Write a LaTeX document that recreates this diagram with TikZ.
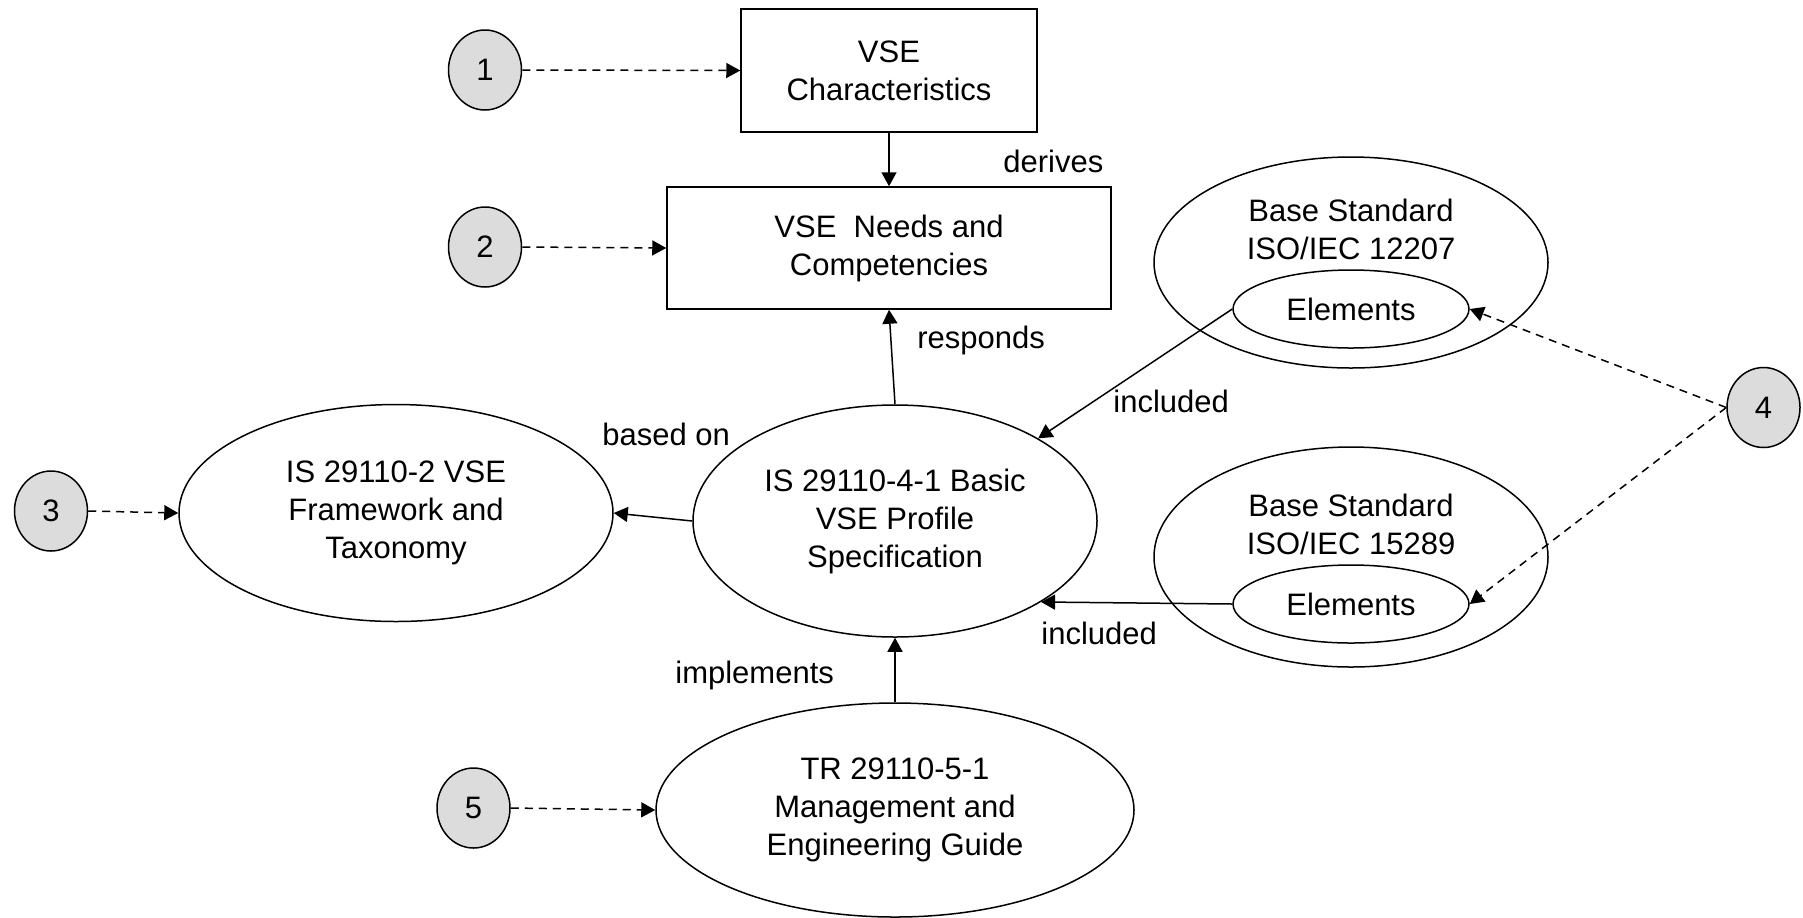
\documentclass[tikz,border=0pt]{standalone}
\usepackage{fontspec}
\setmainfont{Liberation Sans}
\usetikzlibrary{shapes.geometric,arrows.meta}
\definecolor{numgray}{HTML}{DCDCDC}
\begin{document}
\begin{tikzpicture}[x=0.5pt,y=-0.5pt,
  every node/.style={font=\fontsize{15.5}{19}\selectfont},
  num/.style={ellipse,draw,fill=numgray,line width=0.75pt,minimum width=36.5pt,minimum height=40pt,inner sep=0pt},
  rectbox/.style={rectangle,draw,line width=0.75pt,align=center,inner sep=0pt},
  oval/.style={ellipse,draw,line width=0.75pt,align=center,inner sep=0pt},
  lbl/.style={anchor=base west,inner sep=0pt},
  link/.style={line width=0.75pt,-{Triangle[length=7pt,width=7.5pt]}},
  dlink/.style={link,dash pattern=on 4pt off 3pt}]
\useasboundingbox (0,0) rectangle (1803,917);

\node[num] (c1) at (485,70) {1};
\node[num] (c2) at (485,247) {2};
\node[num] (c3) at (51,511) {3};
\node[num] (c4) at (1763.5,407.5) {4};
\node[num] (c5) at (473.5,808) {5};

\node[rectbox,minimum width=148pt,minimum height=61.5pt] (char) at (889,70.5) {VSE\\Characteristics};
\node[rectbox,minimum width=222pt,minimum height=61pt] (needs) at (889,248) {VSE\ \ Needs and\\Competencies};
\node[oval,minimum width=217pt,minimum height=108.5pt] (fw) at (396,513) {IS 29110-2 VSE\\Framework and\\Taxonomy};
\node[oval,minimum width=202pt,minimum height=116pt] (prof) at (895,521) {IS 29110-4-1 Basic\\VSE Profile\\Specification};
\node[oval,minimum width=197pt,minimum height=105.5pt] (b1) at (1351,262.5) {};
\node[align=center,inner sep=0pt] (b1t) at (1351,229.5) {Base Standard\\ISO/IEC 12207};
\node[oval,minimum width=118pt,minimum height=39pt] (e1) at (1351,309) {Elements};
\node[oval,minimum width=197pt,minimum height=110pt] (b2) at (1351,557) {};
\node[align=center,inner sep=0pt] (b2t) at (1351,524) {Base Standard\\ISO/IEC 15289};
\node[oval,minimum width=118pt,minimum height=39pt] (e2) at (1351,604) {Elements};
\node[oval,minimum width=239pt,minimum height=107pt] (tr) at (895,810) {TR 29110-5-1\\Management and\\Engineering Guide};

\draw[dlink] (c1.east) -- (char.west);
\draw[dlink] (c2.east) -- (needs.west);
\draw[dlink] (c3.east) -- (fw.west);
\draw[dlink] (c5.east) -- (tr.west);
\draw[dlink] (c4.west) -- (e1.east);
\draw[dlink] (c4.west) -- (e2.east);
\draw[link] (char.south) -- (needs.north);
\draw[link] (prof.north) -- (needs.south);
\draw[link] (prof.west) -- (fw.east);
\draw[link] (e1.west) -- (prof.30);
\draw[link] (e2.west) -- (prof.-29);
\draw[link] (tr.north) -- (prof.south);

\node[lbl] (l1) at (1003,172) {derives};
\node[lbl] (l2) at (917,348) {responds};
\node[lbl] (l3) at (602,445) {based on};
\node[lbl] (l4) at (1113,412) {included};
\node[lbl] (l5) at (1041,644) {included};
\node[lbl] (l6) at (675,683) {implements};
\end{tikzpicture}
\end{document}
